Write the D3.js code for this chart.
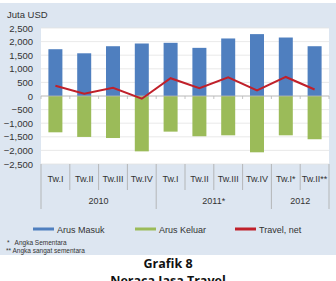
<!DOCTYPE html>
<html>
<head>
<meta charset="utf-8">
<script src="https://cdn.jsdelivr.net/npm/d3@7"></script>
<style>
  body { margin: 0; background: #fff; }
  svg { display: block; font-family: "Liberation Sans", Arial, sans-serif; }
</style>
</head>
<body>
<div class="chart"></div>
<script>
// data
var quarters = ["Tw.I", "Tw.II", "Tw.III", "Tw.IV", "Tw.I", "Tw.II", "Tw.III", "Tw.IV", "Tw.I*", "Tw.II**"];
var years = ["2010", "2011*", "2012"];
var yearSpan = [4, 4, 2];
var arusMasuk = [1720, 1570, 1830, 1930, 1955, 1770, 2115, 2275, 2150, 1830];
var arusKeluar = [-1335, -1505, -1545, -2035, -1310, -1480, -1445, -2070, -1445, -1590];
var travelNet = [375, 80, 300, -100, 655, 285, 690, 205, 700, 240];
var yTicks = [2500, 2000, 1500, 1000, 500, 0, -500, -1000, -1500, -2000, -2500];

var svgWidth = 336;
var svgHeight = 281;

var margin = { top: 28, left: 41, right: 7 };
var plotW = 329 - margin.left;
var plotBottom = 164;

var svg = d3.select(".chart")
  .append("svg")
  .attr("width", svgWidth)
  .attr("height", svgHeight);

// light panel behind the chart
svg.append("rect")
  .attr("x", 0).attr("y", 3)
  .attr("width", svgWidth).attr("height", 252)
  .attr("fill", "#dde6f1");

var x = d3.scaleBand()
  .domain(d3.range(quarters.length))
  .range([margin.left, margin.left + plotW]);

var y = d3.scaleLinear()
  .domain([-2500, 2500])
  .range([plotBottom, margin.top]);

// white plot area
svg.append("rect")
  .attr("x", margin.left).attr("y", margin.top)
  .attr("width", plotW).attr("height", plotBottom - margin.top)
  .attr("fill", "#fff");

// gridlines
svg.append("g")
  .selectAll("line")
  .data(yTicks)
  .enter()
  .append("line")
  .attr("x1", margin.left).attr("x2", margin.left + plotW)
  .attr("y1", d => y(d)).attr("y2", d => y(d))
  .attr("stroke", "#e3e3e3")
  .attr("stroke-width", 0.8);

// y axis labels
var leftAxis = d3.axisLeft(y).tickValues(yTicks).tickSize(0).tickPadding(8)
  .tickFormat(d3.format(","));
var yAxis = svg.append("g")
  .attr("transform", `translate(${margin.left}, 0)`)
  .call(leftAxis);
yAxis.select(".domain").remove();
yAxis.selectAll("text")
  .attr("font-size", "9.5px")
  .attr("font-family", "Liberation Sans, Arial, sans-serif")
  .attr("fill", "#333");

svg.append("text")
  .attr("x", 7).attr("y", 18)
  .attr("font-size", "9.5px")
  .attr("fill", "#333")
  .text("Juta USD");

var barW = 14;

// inflow bars
svg.append("g")
  .selectAll("rect")
  .data(arusMasuk)
  .enter()
  .append("rect")
  .attr("x", (d, i) => x(i) + (x.bandwidth() - barW) / 2)
  .attr("y", d => y(d))
  .attr("width", barW)
  .attr("height", d => y(0) - y(d))
  .attr("fill", "#4f7fbf");

// outflow bars
svg.append("g")
  .selectAll("rect")
  .data(arusKeluar)
  .enter()
  .append("rect")
  .attr("x", (d, i) => x(i) + (x.bandwidth() - barW) / 2)
  .attr("y", y(0))
  .attr("width", barW)
  .attr("height", d => y(d) - y(0))
  .attr("fill", "#9bbb59");

// zero line with small category ticks
svg.append("line")
  .attr("x1", margin.left).attr("x2", margin.left + plotW)
  .attr("y1", y(0)).attr("y2", y(0))
  .attr("stroke", "#b8b8b8").attr("stroke-width", 0.8);
svg.append("g")
  .selectAll("line")
  .data(d3.range(quarters.length + 1))
  .enter()
  .append("line")
  .attr("x1", d => margin.left + d * x.step()).attr("x2", d => margin.left + d * x.step())
  .attr("y1", y(0)).attr("y2", y(0) + 3)
  .attr("stroke", "#b8b8b8").attr("stroke-width", 0.8);

// net travel line
var line = d3.line()
  .x((d, i) => x(i) + x.bandwidth() / 2)
  .y(d => y(d));
svg.append("path")
  .datum(travelNet)
  .attr("d", line)
  .attr("fill", "none")
  .attr("stroke", "#c0202a")
  .attr("stroke-width", 2);

// category axis: quarter separators and labels
var catGroup = svg.append("g");
catGroup.selectAll("line.q")
  .data(d3.range(quarters.length + 1))
  .enter()
  .append("line")
  .attr("class", "q")
  .attr("x1", d => margin.left + d * x.step()).attr("x2", d => margin.left + d * x.step())
  .attr("y1", plotBottom).attr("y2", 190)
  .attr("stroke", "#a9a9a9").attr("stroke-width", 0.8);

catGroup.selectAll("text.q")
  .data(quarters)
  .enter()
  .append("text")
  .attr("x", (d, i) => x(i) + x.bandwidth() / 2)
  .attr("y", 182)
  .attr("text-anchor", "middle")
  .attr("font-size", "9px")
  .attr("fill", "#333")
  .text(d => d);

// year separators and labels
var starts = [0];
yearSpan.forEach(function(s, i) { starts.push(starts[i] + s); });
catGroup.selectAll("line.y")
  .data(starts)
  .enter()
  .append("line")
  .attr("class", "y")
  .attr("x1", d => margin.left + d * x.step()).attr("x2", d => margin.left + d * x.step())
  .attr("y1", 190).attr("y2", 209)
  .attr("stroke", "#a9a9a9").attr("stroke-width", 0.8);

catGroup.selectAll("text.y")
  .data(years)
  .enter()
  .append("text")
  .attr("x", (d, i) => margin.left + (starts[i] + yearSpan[i] / 2) * x.step())
  .attr("y", 204)
  .attr("text-anchor", "middle")
  .attr("font-size", "9px")
  .attr("fill", "#333")
  .text(d => d);

// legend
var legendItems = [
  { label: "Arus Masuk", color: "#4f7fbf", x: 33 },
  { label: "Arus Keluar", color: "#9bbb59", x: 135 },
  { label: "Travel, net", color: "#c0202a", x: 235 }
];
var legend = svg.append("g");
legend.selectAll("rect")
  .data(legendItems)
  .enter()
  .append("rect")
  .attr("x", d => d.x).attr("y", 227.5)
  .attr("width", 21).attr("height", 3)
  .attr("fill", d => d.color);
legend.selectAll("text")
  .data(legendItems)
  .enter()
  .append("text")
  .attr("x", d => d.x + 24).attr("y", 232.5)
  .attr("font-size", "9px")
  .attr("fill", "#333")
  .text(d => d.label);

// footnotes
svg.append("text")
  .attr("x", 7).attr("y", 245)
  .attr("font-size", "6.5px").attr("fill", "#333")
  .attr("xml:space", "preserve")
  .text("*   Angka Sementara");
svg.append("text")
  .attr("x", 6).attr("y", 253)
  .attr("font-size", "6.5px").attr("fill", "#333")
  .text("** Angka sangat sementara");

// caption
svg.append("text")
  .attr("x", 168).attr("y", 268)
  .attr("text-anchor", "middle")
  .attr("font-family", "Open Sans, sans-serif")
  .attr("font-weight", "bold")
  .attr("font-size", "12.5px")
  .attr("fill", "#111")
  .text("Grafik 8");
svg.append("text")
  .attr("x", 168).attr("y", 285)
  .attr("text-anchor", "middle")
  .attr("font-family", "Open Sans, sans-serif")
  .attr("font-weight", "bold")
  .attr("font-size", "12.5px")
  .attr("fill", "#111")
  .text("Neraca Jasa Travel");
</script>
</body>
</html>
